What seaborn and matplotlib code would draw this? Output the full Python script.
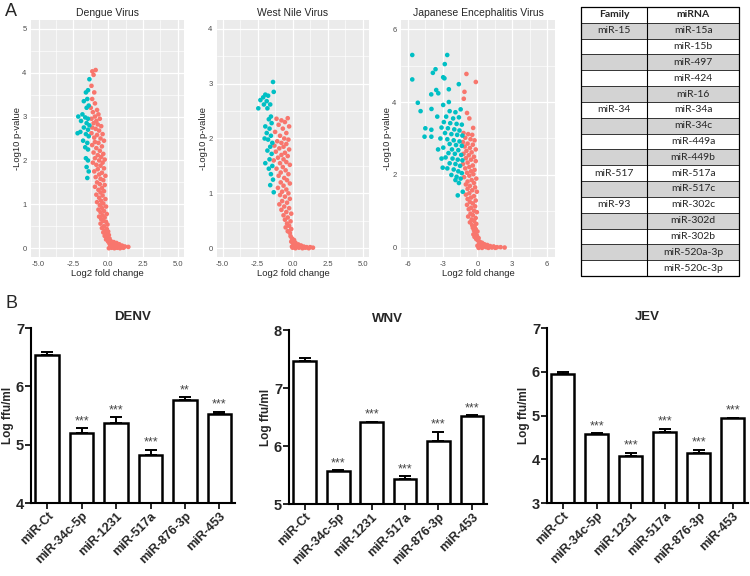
import matplotlib
matplotlib.use('Agg')
import matplotlib.pyplot as plt
import pandas as pd
import seaborn as sns
from matplotlib.ticker import MultipleLocator
from matplotlib.patches import Rectangle

# ---- Panel A: volcano plots (log2 fold change, -log10 p-value) ----
dengue_ns = [
    (-1.14, 4.03), (-0.90, 4.06), (-1.05, 3.95), (-1.20, 3.70), (-1.00, 3.55), (-1.15, 3.40), (-0.95, 3.30),
    (-1.25, 3.20), (-0.80, 3.15), (-1.10, 3.10), (-0.70, 3.05), (-0.95, 3.00), (-1.20, 2.95), (-0.60, 2.95),
    (-0.85, 2.90), (-1.05, 2.85), (-0.75, 2.82), (-0.50, 2.78), (-1.15, 2.75), (-0.90, 2.72), (-0.65, 2.68),
    (-1.20, 2.62), (-0.40, 2.60), (-0.80, 2.58), (-1.00, 2.52), (-0.55, 2.50), (-0.30, 2.45), (-0.95, 2.42),
    (-0.70, 2.40), (-1.15, 2.35), (-0.45, 2.32), (-0.85, 2.28), (-0.60, 2.22), (-1.05, 2.18), (-0.35, 2.15),
    (-0.75, 2.12), (-0.50, 2.08), (-0.95, 2.05), (-0.25, 2.02), (-0.65, 2.00), (-1.10, 1.95), (-0.40, 1.95),
    (-0.85, 1.90), (-0.55, 1.88), (-0.30, 1.82), (-0.75, 1.80), (-1.00, 1.75), (-0.45, 1.72), (-0.65, 1.68),
    (-0.20, 1.65), (-0.90, 1.62), (-0.55, 1.58), (-0.35, 1.55), (-0.80, 1.50), (-0.60, 1.46), (-0.25, 1.44),
    (-0.95, 1.40), (-0.45, 1.37), (-0.70, 1.33), (-0.30, 1.30), (-0.55, 1.27), (-0.85, 1.22), (-0.40, 1.20),
    (-0.65, 1.15), (-0.20, 1.12), (-0.50, 1.08), (-0.80, 1.05), (-0.35, 1.02), (-0.60, 0.98), (-0.15, 0.95),
    (-0.45, 0.92), (-0.70, 0.88), (-0.30, 0.85), (-0.55, 0.82), (-0.10, 0.78), (-0.40, 0.75), (-0.65, 0.72),
    (-0.25, 0.70), (-0.50, 0.66), (-0.35, 0.62), (-0.15, 0.60), (-0.55, 0.56), (-0.05, 0.54), (-0.30, 0.50),
    (-0.45, 0.46), (-0.10, 0.44), (-0.25, 0.40), (0.00, 0.38), (-0.35, 0.36), (-0.15, 0.33), (0.05, 0.30),
    (-0.25, 0.28), (-0.05, 0.25), (0.10, 0.22), (-0.15, 0.20), (0.00, 0.15), (0.20, 0.16), (0.40, 0.14),
    (0.60, 0.12), (0.10, 0.10), (0.30, 0.09), (0.50, 0.08), (0.80, 0.09), (1.00, 0.06), (0.15, 0.04),
    (0.35, 0.03), (0.55, 0.05), (0.75, 0.03), (0.95, 0.02), (1.20, 0.04), (1.45, 0.03), (0.05, 0.00),
    (0.25, 0.01), (0.45, 0.00), (0.65, 0.01), (0.85, 0.00), (1.10, 0.01), (0.20, 0.12), (0.70, 0.07),
]
dengue_sig = [
    (-1.35, 3.85), (-1.45, 3.60), (-1.60, 3.55), (-1.50, 3.40), (-1.75, 3.35), (-1.40, 3.25), (-1.55, 3.20),
    (-1.85, 3.05), (-2.15, 3.00), (-1.65, 2.98), (-1.45, 2.95), (-1.95, 2.90), (-1.55, 2.85), (-1.35, 2.80),
    (-2.20, 2.62), (-1.75, 2.75), (-1.45, 2.70), (-2.00, 2.65), (-1.60, 2.60), (-1.40, 2.55), (-1.80, 2.45),
    (-1.50, 2.40), (-1.65, 2.30), (-1.45, 2.25), (-1.60, 2.05), (-1.45, 2.00), (-1.55, 1.85), (-1.40, 1.75),
    (-1.50, 1.60),
]

wnv_ns = [
    (-0.35, 2.37), (-1.15, 2.36), (-0.80, 2.33), (-0.55, 2.30), (-1.00, 2.25), (-0.25, 2.22), (-0.70, 2.18),
    (-1.25, 2.12), (-0.45, 2.10), (-0.90, 2.05), (-0.60, 2.00), (-0.30, 1.98), (-1.10, 1.95), (-0.80, 1.92),
    (-0.45, 1.90), (-1.30, 1.87), (-0.65, 1.85), (-0.95, 1.82), (-0.25, 1.80), (-1.20, 1.76), (-0.55, 1.74),
    (-0.80, 1.70), (-0.35, 1.68), (-1.05, 1.65), (-0.65, 1.62), (-1.35, 1.60), (-0.45, 1.57), (-0.90, 1.55),
    (-0.20, 1.52), (-0.70, 1.48), (-1.15, 1.45), (-0.50, 1.42), (-0.85, 1.38), (-0.30, 1.35), (-1.00, 1.32),
    (-0.60, 1.28), (-0.40, 1.24), (-0.85, 1.20), (-0.20, 1.18), (-0.65, 1.14), (-1.05, 1.10), (-0.45, 1.07),
    (-0.75, 1.03), (-0.30, 1.00), (-0.90, 0.97), (-0.55, 0.94), (-0.20, 0.90), (-0.75, 0.86), (-0.40, 0.83),
    (-0.95, 0.80), (-0.60, 0.76), (-0.25, 0.73), (-0.80, 0.70), (-0.45, 0.66), (-0.10, 0.63), (-0.65, 0.60),
    (-0.35, 0.56), (-0.55, 0.52), (-0.15, 0.49), (-0.40, 0.45), (-0.25, 0.41), (-0.50, 0.38), (-0.10, 0.35),
    (-0.35, 0.31), (-0.20, 0.28), (-0.15, 0.22), (-0.05, 0.18), (0.10, 0.15), (-0.10, 0.12), (0.20, 0.10),
    (0.05, 0.08), (0.40, 0.07), (0.15, 0.05), (0.60, 0.05), (0.30, 0.03), (0.80, 0.03), (1.00, 0.02),
    (1.25, 0.02), (1.45, 0.01), (0.00, 0.01), (0.20, 0.00), (0.45, 0.01), (0.70, 0.00), (0.90, 0.01),
    (1.15, 0.00), (-0.05, 0.03),
]
wnv_sig = [
    (-1.40, 3.03), (-1.35, 2.85), (-1.95, 2.80), (-2.10, 2.75), (-1.75, 2.78), (-2.30, 2.70), (-1.85, 2.68),
    (-2.05, 2.62), (-1.60, 2.62), (-2.45, 2.55), (-1.80, 2.55), (-1.55, 2.40), (-1.70, 2.35), (-1.50, 2.28),
    (-1.95, 2.22), (-1.65, 2.18), (-1.85, 2.10), (-1.55, 2.05), (-2.00, 2.00), (-1.75, 1.98), (-1.45, 1.92),
    (-1.60, 1.85), (-1.80, 1.78), (-1.50, 1.72), (-1.65, 1.62), (-1.95, 1.55), (-1.45, 1.50), (-1.70, 1.45),
    (-1.55, 1.35), (-1.40, 1.25), (-1.60, 1.15), (-1.35, 1.02),
]

jev_ns = [
    (-0.95, 4.77), (-0.14, 4.55), (-1.12, 4.28), (-1.18, 4.09), (-0.37, 3.29), (-0.90, 3.70), (-0.70, 3.55),
    (-1.20, 3.15), (-0.80, 3.12), (-0.45, 3.10), (-1.05, 3.02), (-0.60, 2.98), (-0.25, 2.95), (-1.25, 2.90),
    (-0.85, 2.86), (-0.40, 2.83), (-1.10, 2.78), (-0.65, 2.74), (-0.15, 2.70), (-0.95, 2.66), (-0.50, 2.62),
    (-1.20, 2.58), (-0.75, 2.54), (-0.30, 2.50), (-1.00, 2.46), (-0.55, 2.42), (-0.15, 2.38), (-0.85, 2.34),
    (-1.25, 2.30), (-0.40, 2.26), (-0.70, 2.22), (-1.05, 2.18), (-0.25, 2.14), (-0.55, 2.10), (-0.90, 2.06),
    (-0.35, 2.02), (-0.70, 1.98), (-1.15, 1.94), (-0.10, 1.90), (-0.50, 1.86), (-0.85, 1.82), (-0.30, 1.78),
    (-1.00, 1.74), (-0.65, 1.70), (-0.20, 1.66), (-0.85, 1.62), (-0.45, 1.58), (-0.05, 1.54), (-0.70, 1.50),
    (-1.00, 1.46), (-0.30, 1.42), (-0.55, 1.38), (-0.85, 1.34), (-0.15, 1.30), (-0.65, 1.26), (-0.40, 1.22),
    (-0.90, 1.18), (-0.20, 1.14), (-0.55, 1.10), (-0.75, 1.06), (-0.30, 1.02), (-0.05, 0.98), (-0.60, 0.94),
    (-0.40, 0.90), (-0.80, 0.86), (-0.15, 0.82), (-0.50, 0.78), (-0.30, 0.74), (-0.65, 0.70), (-0.10, 0.66),
    (-0.45, 0.62), (-0.25, 0.59), (-0.40, 0.55), (-0.15, 0.52), (-0.30, 0.48), (0.00, 0.45), (-0.20, 0.41),
    (-0.35, 0.37), (-0.05, 0.34), (-0.25, 0.30), (0.10, 0.27), (-0.10, 0.24), (0.05, 0.20), (0.20, 0.17),
    (0.40, 0.14), (0.15, 0.11), (0.60, 0.10), (0.30, 0.08), (0.85, 0.08), (0.50, 0.05), (1.10, 0.05),
    (0.20, 0.03), (1.40, 0.04), (0.75, 0.02), (1.70, 0.02), (2.00, 0.02), (2.35, 0.01), (0.10, 0.00),
    (0.40, 0.00), (0.95, 0.00), (1.25, 0.01), (1.55, 0.00), (0.65, 0.04), (0.00, 0.06),
]
jev_sig = [
    (-5.63, 5.29), (-2.61, 5.29), (-2.82, 5.04), (-5.63, 4.62), (-3.62, 4.90), (-3.85, 4.80), (-2.96, 4.68),
    (-2.85, 4.65), (-1.61, 4.49), (-2.47, 4.35), (-3.56, 4.33), (-3.99, 4.21), (-3.38, 4.24), (-5.15, 3.98),
    (-4.91, 3.75), (-3.97, 3.81), (-2.96, 3.92), (-2.47, 4.00), (-3.47, 3.60), (-4.50, 3.28), (-4.57, 3.05),
    (-3.98, 3.24), (-3.98, 3.05), (-2.40, 3.75), (-1.90, 3.72), (-1.45, 3.80), (-2.70, 3.60), (-2.10, 3.55),
    (-1.60, 3.58), (-2.90, 3.45), (-2.35, 3.42), (-1.80, 3.40), (-1.35, 3.38), (-3.10, 3.30), (-2.55, 3.28),
    (-2.00, 3.25), (-1.55, 3.22), (-2.80, 3.15), (-2.25, 3.12), (-1.75, 3.10), (-1.30, 3.08), (-3.20, 3.00),
    (-2.60, 2.98), (-2.05, 2.95), (-1.55, 2.92), (-2.40, 2.85), (-1.85, 2.82), (-1.35, 2.80), (-2.95, 2.75),
    (-2.20, 2.70), (-1.65, 2.68), (-2.50, 2.60), (-1.95, 2.58), (-1.40, 2.55), (-2.75, 2.48), (-2.15, 2.45),
    (-1.70, 2.42), (-1.30, 2.40), (-2.40, 2.32), (-1.90, 2.30), (-1.50, 2.25), (-2.60, 2.18), (-2.05, 2.15),
    (-1.65, 2.10), (-1.35, 2.05), (-2.25, 2.00), (-1.80, 1.95), (-1.45, 1.90), (-1.90, 1.86), (-1.60, 1.78),
    (-1.70, 1.44), (-1.27, 1.54), (-3.40, 2.70), (-3.10, 2.45), (-3.00, 2.20),
]

# ---- table ----
table_family = ['miR-15', '', '', '', '', 'miR-34', '', '', '', 'miR-517', '', 'miR-93', '', '', '', '']
table_mirna = ['miR-15a', 'miR-15b', 'miR-497', 'miR-424', 'miR-16', 'miR-34a', 'miR-34c', 'miR-449a',
               'miR-449b', 'miR-517a', 'miR-517c', 'miR-302c', 'miR-302d', 'miR-302b', 'miR-520a-3p',
               'miR-520c-3p']

# ---- Panel B: virus titres ----
mirnas = ['miR-Ct', 'miR-34c-5p', 'miR-1231', 'miR-517a', 'miR-876-3p', 'miR-453']
denv_mean = [6.53, 5.20, 5.38, 4.82, 5.76, 5.53]
denv_err = [0.06, 0.08, 0.09, 0.09, 0.05, 0.03]
denv_stars = ['', '***', '***', '***', '**', '***']
wnv_mean = [7.47, 5.57, 6.41, 5.43, 6.08, 6.51]
wnv_err = [0.04, 0.01, 0.005, 0.05, 0.16, 0.02]
wnv_stars = ['', '***', '***', '***', '***', '***']
jev_mean = [5.95, 4.57, 4.08, 4.63, 4.15, 4.94]
jev_err = [0.05, 0.02, 0.07, 0.06, 0.06, 0.01]
jev_stars = ['', '***', '***', '***', '***', '***']

RED = '#F8766D'
TEAL = '#00BFC4'

sns.set_style('white')
plt.rcParams['font.family'] = ['Liberation Sans', 'DejaVu Sans']
plt.rcParams['axes.unicode_minus'] = False

fig = plt.figure(figsize=(7.5, 5.76), dpi=100)


def volcano(rect, ns, sig, title, xlim, ylim, xmaj, ymaj, xfmt):
    ax = fig.add_axes(rect)
    df = pd.DataFrame(ns + sig, columns=['fc', 'p'])
    df['grp'] = ['ns'] * len(ns) + ['sig'] * len(sig)
    sns.scatterplot(data=df, x='fc', y='p', hue='grp', palette={'ns': RED, 'sig': TEAL},
                    s=11, linewidth=0, legend=False, ax=ax)
    ax.set_facecolor('#EBEBEB')
    for sp in ax.spines.values():
        sp.set_visible(False)
    ax.set_xlim(*xlim)
    ax.set_ylim(*ylim)
    ax.xaxis.set_major_locator(MultipleLocator(xmaj))
    ax.xaxis.set_minor_locator(MultipleLocator(xmaj / 2))
    ax.yaxis.set_major_locator(MultipleLocator(ymaj))
    ax.yaxis.set_minor_locator(MultipleLocator(ymaj / 2))
    ax.xaxis.set_major_formatter(xfmt)
    ax.grid(which='major', color='white', lw=0.9)
    ax.grid(which='minor', color='white', lw=0.45)
    ax.set_axisbelow(True)
    ax.tick_params(which='major', length=2, width=0.6, color='#333333', labelsize=5.5,
                   labelcolor='#4D4D4D', pad=1.2)
    ax.tick_params(which='minor', length=0)
    ax.set_title(title, fontsize=7.5, pad=3)
    ax.set_xlabel('Log2 fold change', fontsize=6.8, labelpad=0.5)
    ax.set_ylabel('-Log10 p-value', fontsize=6.8, labelpad=0)
    return ax


volcano([0.0413, 0.5538, 0.204, 0.4115], dengue_ns, dengue_sig, 'Dengue Virus',
        (-5.55, 5.45), (-0.2, 5.2), 2.5, 1, '{x:.1f}')
volcano([0.2893, 0.5538, 0.2027, 0.4115], wnv_ns, wnv_sig, 'West Nile Virus',
        (-5.4, 5.45), (-0.16, 4.16), 2.5, 1, '{x:.1f}')
volcano([0.5347, 0.5538, 0.2053, 0.4115], jev_ns, jev_sig, 'Japanese Encephalitis Virus',
        (-6.6, 6.7), (-0.25, 6.25), 3, 2, '{x:.0f}')

# table
axt = fig.add_axes([0.7747, 0.5208, 0.2107, 0.467])
axt.set_xlim(0, 1)
axt.set_ylim(17, 0)
axt.axis('off')
split = 0.418
tfont = ['Lato', 'DejaVu Sans']
axt.text(split / 2, 0.5, 'Family', ha='center', va='center', fontsize=7.5, fontweight='bold', family=tfont)
axt.text((1 + split) / 2, 0.5, 'miRNA', ha='center', va='center', fontsize=7.5, fontweight='bold', family=tfont)
for i, (fam, mir) in enumerate(zip(table_family, table_mirna)):
    row = i + 1
    if i % 2 == 0:
        axt.add_patch(Rectangle((0, row), 1, 1, facecolor='#D3D3D3', edgecolor='none'))
    axt.text(split / 2, row + 0.5, fam, ha='center', va='center', fontsize=7.5, family=tfont)
    axt.text((1 + split) / 2, row + 0.5, mir, ha='center', va='center', fontsize=7.5, family=tfont)
    axt.plot([0, 1], [row, row], color='#333333', lw=0.7)
axt.plot([0, 1, 1, 0, 0], [0, 0, 17, 17, 0], color='black', lw=0.9, clip_on=False)
axt.plot([split, split], [0, 17], color='black', lw=0.8)


def titre(rect, mean, err, stars, ylim, title):
    ax = fig.add_axes(rect)
    df = pd.DataFrame({'mirna': mirnas, 'titre': mean})
    sns.barplot(data=df, x='mirna', y='titre', order=mirnas, color='white', edgecolor='black',
                linewidth=1.8, width=0.68, errorbar=None, ax=ax)
    for bar in ax.patches:
        bar.set_facecolor('white')
    ax.errorbar(range(len(mirnas)), mean, yerr=[[0] * len(err), err], fmt='none', ecolor='black',
                elinewidth=1.4, capsize=4, capthick=1.4, zorder=1)
    for i, s in enumerate(stars):
        if s:
            ax.annotate(s, (i, mean[i] + err[i]), xytext=(0, 3), textcoords='offset points',
                        ha='center', va='baseline', fontsize=9, color='#444444')
    ax.set_ylim(*ylim)
    ax.set_xlim(-0.47, 5.45)
    ax.yaxis.set_major_locator(MultipleLocator(1))
    for side in ['top', 'right']:
        ax.spines[side].set_visible(False)
    for side in ['left', 'bottom']:
        ax.spines[side].set_linewidth(1.5)
        ax.spines[side].set_color('black')
    ax.tick_params(axis='both', direction='out', length=4, width=1.2, color='black', bottom=True, left=True)
    ax.tick_params(axis='y', labelsize=10.5, pad=1)
    ax.tick_params(axis='x', labelsize=9, pad=1)
    for lab in ax.get_yticklabels():
        lab.set_fontweight('bold')
    ax.set_xticks(range(len(mirnas)))
    ax.set_xticklabels(mirnas, rotation=45, ha='right', rotation_mode='anchor', fontweight='bold')
    ax.set_xlabel('')
    ax.set_ylabel('Log ffu/ml', fontsize=8.5, fontweight='bold', labelpad=1.5)
    ax.set_title(title, fontsize=9.5, fontweight='bold', pad=6)
    return ax


titre([0.0413, 0.1267, 0.272, 0.3038], denv_mean, denv_err, denv_stars, (4, 7), 'DENV')
titre([0.3853, 0.125, 0.264, 0.302], wnv_mean, wnv_err, wnv_stars, (5, 8), 'WNV')
titre([0.7293, 0.1267, 0.268, 0.3038], jev_mean, jev_err, jev_stars, (3, 7), 'JEV')

fig.text(0.007, 0.995, 'A', fontsize=13, va='top', ha='left')
fig.text(0.007, 0.488, 'B', fontsize=13, va='top', ha='left')

fig.savefig('out.png', dpi=100)
